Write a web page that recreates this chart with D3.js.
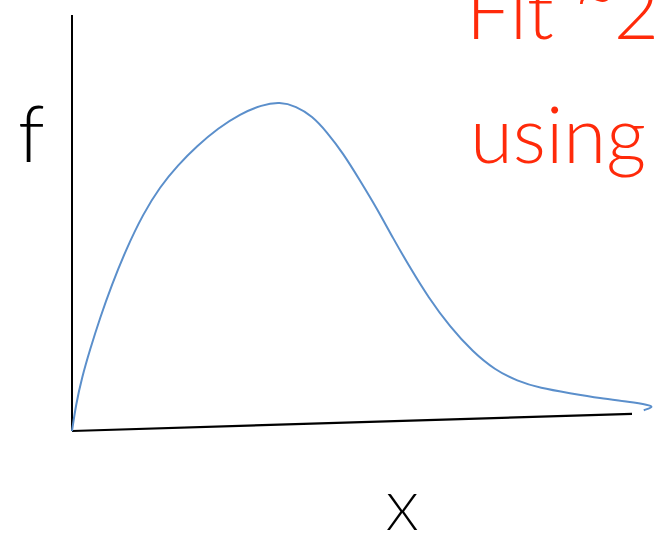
<!DOCTYPE html>
<html>
<head>
<meta charset="utf-8">
<script src="https://cdn.jsdelivr.net/npm/d3@7"></script>
<style>
  html, body { margin: 0; padding: 0; background: #fff; }
  svg { display: block; }
</style>
</head>
<body>
<svg id="chart" width="656" height="540"></svg>
<script>
// Sketched density curve f(x): a skewed hump with a long right tail
const curveX = [0, 0.07, 0.18, 0.32, 0.50, 0.71, 0.96, 1.27, 1.57, 1.89, 2.23, 2.61, 3.00, 3.39, 3.71, 4.00, 4.29, 4.55, 4.84, 5.14, 5.45, 5.73, 6.04, 6.36, 6.75, 7.16, 7.55, 7.95, 8.36, 8.89, 9.43, 9.96, 10.29, 10.39, 10.21];
const curveY = [0, 0.63, 1.30, 1.95, 2.72, 3.51, 4.35, 5.22, 5.87, 6.39, 6.85, 7.28, 7.62, 7.84, 7.91, 7.81, 7.57, 7.19, 6.68, 6.03, 5.34, 4.64, 3.92, 3.22, 2.50, 1.90, 1.47, 1.20, 1.03, 0.91, 0.79, 0.70, 0.63, 0.58, 0.50];

// Hand-drawn axes: vertical f axis and a slightly rising x axis
const axisF = [[0, 0], [0, 10]];
const axisXline = [[0, 0], [10, 0.41]];

const yLabel = "f";
const xLabel = "X";
const titleParts = ["Fit ", "~", "2"];
const subtitle = "using";

const svg = d3.select("#chart");

const x = d3.scaleLinear().domain([0, 10]).range([72, 632]);
const y = d3.scaleLinear().domain([0, 10]).range([431, 15]);

const line = d3.line().x(d => x(d[0])).y(d => y(d[1]));

// axes
svg.append("path")
  .attr("d", line(axisF))
  .attr("fill", "none")
  .attr("stroke", "#000")
  .attr("stroke-width", 2);
svg.append("path")
  .attr("d", line(axisXline))
  .attr("fill", "none")
  .attr("stroke", "#000")
  .attr("stroke-width", 2.2);

// curve
const pts = curveX.map((v, i) => [v, curveY[i]]);
svg.append("path")
  .attr("d", d3.line().x(d => x(d[0])).y(d => y(d[1])).curve(d3.curveBasis)(pts))
  .attr("fill", "none")
  .attr("stroke", "#5B8FCB")
  .attr("stroke-width", 2);

// axis labels
const font = "Lato, 'Open Sans', sans-serif";
svg.append("text")
  .attr("x", 18).attr("y", 162)
  .attr("font-family", font).attr("font-weight", 300)
  .attr("font-size", 78)
  .attr("fill", "#000")
  .text(yLabel);

svg.append("text")
  .attr("x", 386).attr("y", 530)
  .attr("font-family", font).attr("font-weight", 300)
  .attr("font-size", 52)
  .attr("fill", "#000")
  .text(xLabel);

// title text in red, running off the top edge
const red = "#FF2A0A";
const t1 = svg.append("text")
  .attr("x", 466).attr("y", 39)
  .attr("font-family", font).attr("font-weight", 300)
  .attr("font-size", 78)
  .attr("fill", red);
t1.append("tspan").text(titleParts[0]);
t1.append("tspan").attr("dy", -20).attr("font-size", 70).text(titleParts[1]);
t1.append("tspan").attr("dy", 20).attr("dx", -2).text(titleParts[2]);

svg.append("text")
  .attr("x", 470).attr("y", 163)
  .attr("font-family", font).attr("font-weight", 300)
  .attr("font-size", 78)
  .attr("fill", red)
  .text(subtitle);
</script>
</body>
</html>
